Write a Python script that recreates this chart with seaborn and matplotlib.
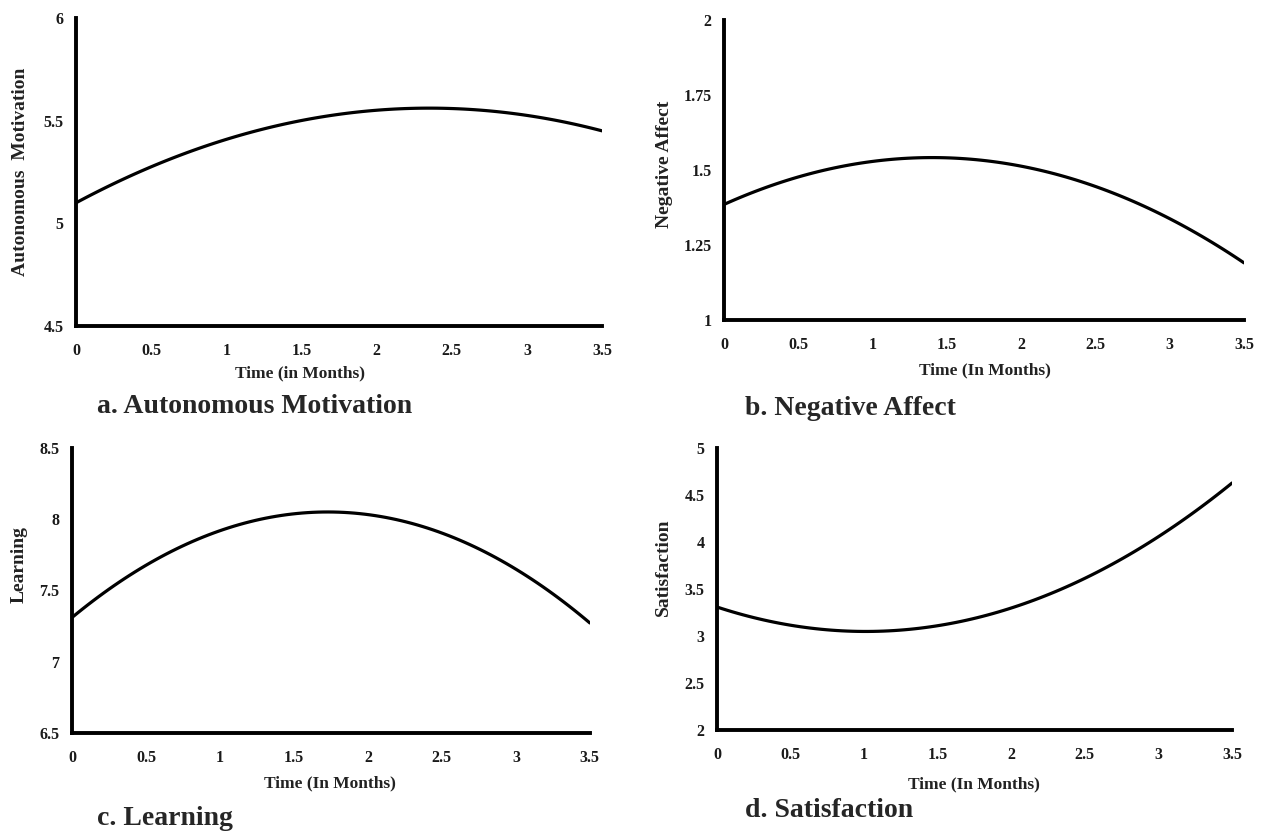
import numpy as np
import pandas as pd
import matplotlib
matplotlib.use("Agg")
import matplotlib.pyplot as plt
import seaborn as sns

# -----------------------------
# Data
# -----------------------------
time = [0, 0.25, 0.5, 0.75, 1, 1.25, 1.5, 1.75, 2, 2.25, 2.5, 2.75, 3, 3.25, 3.5]

autonomous = [5.100, 5.193, 5.275, 5.347, 5.409, 5.460, 5.501, 5.531,
              5.551, 5.560, 5.559, 5.548, 5.526, 5.494, 5.450]
negative = [1.385, 1.436, 1.477, 1.507, 1.528, 1.540, 1.540, 1.531,
            1.513, 1.484, 1.445, 1.396, 1.338, 1.269, 1.190]
learning = [7.310, 7.509, 7.677, 7.813, 7.919, 7.994, 8.038, 8.050,
            8.032, 7.983, 7.903, 7.791, 7.649, 7.476, 7.272]
satisfaction = [3.310, 3.197, 3.116, 3.067, 3.050, 3.064, 3.111, 3.190,
                3.300, 3.442, 3.616, 3.822, 4.060, 4.329, 4.631]

x_ticks = [0, 0.5, 1, 1.5, 2, 2.5, 3, 3.5]
x_ticklabels = ["0", "0.5", "1", "1.5", "2", "2.5", "3", "3.5"]

sns.set_style("white")
plt.rcParams['font.family'] = ['Liberation Serif', 'DejaVu Serif']
plt.rcParams['font.weight'] = 'bold'

fig = plt.figure(figsize=(12.66, 8.31), dpi=100)

panels = [
    # values, ylabel, xlabel, yticks, yticklabels, axes rect,
    # xlabel coords, ylabel coords, caption, caption pos (baseline)
    (autonomous, "Autonomous  Motivation", "Time (in Months)",
     [4.5, 5, 5.5, 6], ["4.5", "5", "5.5", "6"],
     [0.0600, 0.6077, 0.4155, 0.3706], (0.426, -0.128), (-0.090, 0.50),
     "a. Autonomous Motivation", (0.0766, 0.503)),
    (negative, "Negative Affect", "Time (In Months)",
     [1, 1.25, 1.5, 1.75, 2], ["1", "1.25", "1.5", "1.75", "2"],
     [0.5719, 0.6150, 0.4107, 0.3610], (0.502, -0.140), (-0.098, 0.52),
     "b. Negative Affect", (0.5885, 0.501)),
    (learning, "Learning", "Time (In Months)",
     [6.5, 7, 7.5, 8, 8.5], ["6.5", "7", "7.5", "8", "8.5"],
     [0.0569, 0.1180, 0.4090, 0.3430], (0.498, -0.150), (-0.085, 0.59),
     "c. Learning", (0.0766, 0.0072)),
    (satisfaction, "Satisfaction", "Time (In Months)",
     [2, 2.5, 3, 3.5, 4, 4.5, 5], ["2", "2.5", "3", "3.5", "4", "4.5", "5"],
     [0.5664, 0.1215, 0.4068, 0.3390], (0.498, -0.165), (-0.087, 0.578),
     "d. Satisfaction", (0.5885, 0.0168)),
]

for vals, ylab, xlab, yt, ytl, rect, xlc, ylc, cap, cpos in panels:
    ax = fig.add_axes(rect)
    df = pd.DataFrame({"time": time, "value": vals})
    # quadratic growth curve through the read-off points
    sns.regplot(data=df, x="time", y="value", ax=ax, order=2, ci=None,
                scatter=False, truncate=True,
                line_kws={"color": "black", "linewidth": 2.3})

    ax.set_xlim(0, 3.5)
    ax.set_ylim(yt[0], yt[-1])
    ax.set_xticks(x_ticks)
    ax.set_xticklabels(x_ticklabels, fontsize=11.5, fontweight='bold', color="#1a1a1a")
    ax.set_yticks(yt)
    ax.set_yticklabels(ytl, fontsize=11.5, fontweight='bold', color="#1a1a1a")
    ax.tick_params(axis='both', length=0)
    ax.tick_params(axis='x', pad=12)
    ax.tick_params(axis='y', pad=9)

    sns.despine(ax=ax)
    for side in ["left", "bottom"]:
        ax.spines[side].set_linewidth(2.8)
        ax.spines[side].set_color("black")

    ax.set_xlabel(xlab, fontsize=12.5, fontweight='bold', color="#222222")
    ax.set_ylabel(ylab, fontsize=14, fontweight='bold', color="#222222")
    ax.xaxis.set_label_coords(*xlc)
    ax.yaxis.set_label_coords(*ylc)

    fig.text(cpos[0], cpos[1], cap, fontsize=20, fontweight='bold',
             ha='left', va='baseline')

fig.savefig("out.png", dpi=100)
